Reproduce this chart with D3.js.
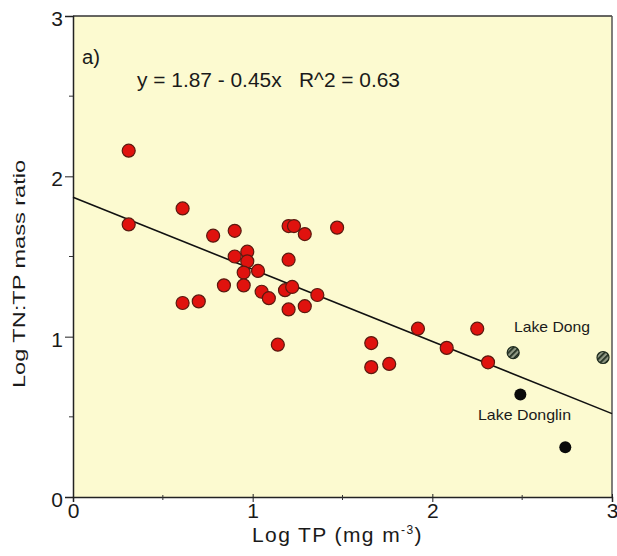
<!DOCTYPE html>
<html>
<head>
<meta charset="utf-8">
<script src="https://cdnjs.cloudflare.com/ajax/libs/d3/7.8.5/d3.min.js"></script>
<style>
  body { margin: 0; background: #fff; }
  text { font-family: "Liberation Sans", Arial, sans-serif; fill: #1a1a1a; white-space: pre; }
</style>
</head>
<body>
<div id="chart"></div>
<script>
// lakes (log TP, log TN:TP)
const lakeTP = [0.31, 0.31, 0.61, 0.61, 0.70, 0.78, 0.84, 0.90, 0.90, 0.97, 0.97, 0.95,
                1.03, 0.95, 1.05, 1.09, 1.14, 1.20, 1.23, 1.29, 1.47, 1.20, 1.18, 1.22,
                1.36, 1.20, 1.29, 1.92, 2.25, 1.66, 2.08, 1.66, 1.76, 2.31];
const lakeRatio = [2.16, 1.70, 1.80, 1.21, 1.22, 1.63, 1.32, 1.66, 1.50, 1.53, 1.47, 1.40,
                   1.41, 1.32, 1.28, 1.24, 0.95, 1.69, 1.69, 1.64, 1.68, 1.48, 1.29, 1.31,
                   1.26, 1.17, 1.19, 1.05, 1.05, 0.96, 0.93, 0.81, 0.83, 0.84];
const dongTP = [2.45, 2.95];
const dongRatio = [0.90, 0.87];
const donglinTP = [2.49, 2.74];
const donglinRatio = [0.64, 0.31];

const intercept = 1.87, slope = -0.45;
const xTicks = [0, 1, 2, 3];
const yTicks = [0, 1, 2, 3];
const minorTicks = [0.5, 1.5, 2.5];

const width = 617, height = 556;
const margin = {top: 16, right: 5, bottom: 59, left: 73};

const x = d3.scaleLinear().domain([0, 3]).range([margin.left, width - margin.right]);
const y = d3.scaleLinear().domain([0, 3]).range([height - margin.bottom, margin.top]);

const svg = d3.select('#chart').append('svg').attr('width', width).attr('height', height);

const defs = svg.append('defs');
const pat = defs.append('pattern').attr('id', 'hatch').attr('patternUnits', 'userSpaceOnUse')
    .attr('width', 4).attr('height', 4).attr('patternTransform', 'rotate(-45)');
pat.append('rect').attr('width', 4).attr('height', 4).attr('fill', '#8f9884');
pat.append('rect').attr('width', 4).attr('height', 1.7).attr('fill', '#1d2a1d');

// plot background
svg.append('rect')
    .attr('x', x(0)).attr('y', y(3))
    .attr('width', x(3) - x(0)).attr('height', y(0) - y(3))
    .attr('fill', '#fcfad0');

// frame top / right
svg.append('line').attr('x1', x(0)).attr('x2', x(3)).attr('y1', y(3)).attr('y2', y(3))
    .attr('stroke', '#333').attr('stroke-width', 1.5);
svg.append('line').attr('x1', x(3)).attr('x2', x(3)).attr('y1', y(3)).attr('y2', y(0))
    .attr('stroke', '#555').attr('stroke-width', 1.5);

// axes
const xAxis = d3.axisBottom(x).tickValues(xTicks).tickFormat(d3.format('d')).tickSize(5).tickPadding(1);
const yAxis = d3.axisLeft(y).tickValues(yTicks).tickFormat(d3.format('d')).tickSize(8).tickPadding(2);

const gx = svg.append('g').attr('transform', 'translate(0,' + y(0) + ')').call(xAxis);
const gy = svg.append('g').attr('transform', 'translate(' + x(0) + ',0)').call(yAxis);
[gx, gy].forEach(g => {
  g.select('.domain').attr('stroke', '#222').attr('stroke-width', 1.5);
  g.selectAll('.tick line').attr('stroke', '#222');
  g.selectAll('.tick text').style('font-size', '21px').attr('fill', '#1a1a1a');
});
gx.selectAll('.tick line').attr('y1', -3);
gy.selectAll('.tick text').attr('dy', '0.45em');

// minor ticks
svg.append('g').selectAll('line').data(minorTicks).join('line')
    .attr('x1', d => x(d)).attr('x2', d => x(d)).attr('y1', y(0) - 2).attr('y2', y(0) + 3)
    .attr('stroke', '#333');
svg.append('g').selectAll('line').data(minorTicks).join('line')
    .attr('x1', x(0) - 4).attr('x2', x(0)).attr('y1', d => y(d)).attr('y2', d => y(d))
    .attr('stroke', '#333');

// regression line
svg.append('line')
    .attr('x1', x(0)).attr('y1', y(intercept))
    .attr('x2', x(3)).attr('y2', y(intercept + slope * 3))
    .attr('stroke', '#111').attr('stroke-width', 1.6);

// points
svg.append('g').selectAll('circle').data(lakeTP).join('circle')
    .attr('cx', d => x(d)).attr('cy', (d, i) => y(lakeRatio[i])).attr('r', 6.5)
    .attr('fill', '#e0120e').attr('stroke', '#5a1a10').attr('stroke-width', 1.2);

svg.append('g').selectAll('circle').data(dongTP).join('circle')
    .attr('cx', d => x(d)).attr('cy', (d, i) => y(dongRatio[i])).attr('r', 6)
    .attr('fill', 'url(#hatch)').attr('stroke', '#1d2a1d').attr('stroke-width', 1.2);

svg.append('g').selectAll('circle').data(donglinTP).join('circle')
    .attr('cx', d => x(d)).attr('cy', (d, i) => y(donglinRatio[i])).attr('r', 6)
    .attr('fill', '#0a0a0a');

// annotations
svg.append('text').attr('x', 514).attr('y', 332).style('font-size', '15px')
    .attr('textLength', 76).attr('lengthAdjust', 'spacingAndGlyphs').text('Lake Dong');
svg.append('text').attr('x', 478).attr('y', 420).style('font-size', '15px')
    .attr('textLength', 93).attr('lengthAdjust', 'spacingAndGlyphs').text('Lake Donglin');

svg.append('text').attr('x', 82).attr('y', 64).style('font-size', '20px')
    .attr('textLength', 18).attr('lengthAdjust', 'spacingAndGlyphs').text('a)');
svg.append('text').attr('x', 137).attr('y', 87).style('font-size', '20px')
    .attr('textLength', 263).attr('lengthAdjust', 'spacingAndGlyphs')
    .text('y = 1.87 - 0.45x   R^2 = 0.63');

// axis titles
svg.append('text')
    .attr('transform', 'translate(25,274) rotate(-90)')
    .attr('text-anchor', 'middle').style('font-size', '17px')
    .attr('textLength', 228).attr('lengthAdjust', 'spacingAndGlyphs')
    .text('Log TN:TP mass ratio');

const xt = svg.append('text').attr('x', 252).attr('y', 542)
    .style('font-size', '21px').style('letter-spacing', '1.4px');
xt.append('tspan').text('Log TP (mg m');
xt.append('tspan').attr('dy', -8).style('font-size', '12px').text('-3');
xt.append('tspan').attr('dy', 8).text(')');
</script>
</body>
</html>
